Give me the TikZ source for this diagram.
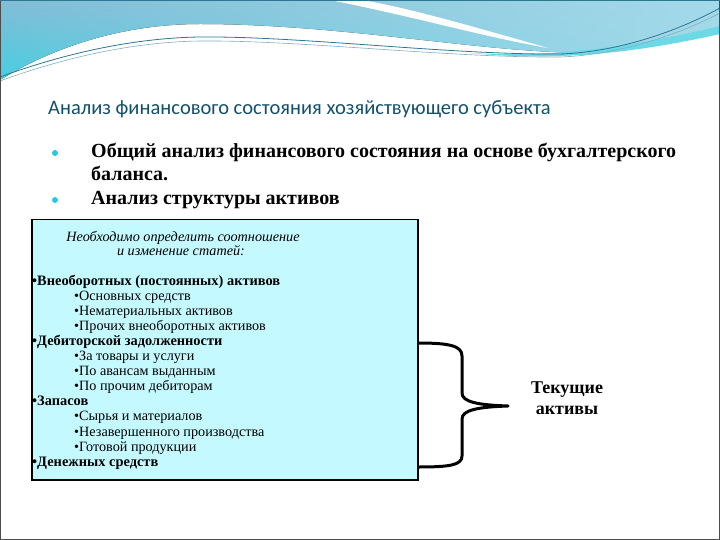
\documentclass[tikz,border=0pt]{standalone}
\usepackage{fontspec}
\usetikzlibrary{fadings}
\setmainfont{Liberation Serif}
\newfontfamily\titlefont{Carlito}
\definecolor{wavetop}{RGB}{132,188,214}
\definecolor{waveleft}{RGB}{72,206,224}
\definecolor{waveright}{RGB}{164,218,234}
\definecolor{waveline}{RGB}{44,120,146}
\definecolor{titleteal}{RGB}{18,80,106}
\definecolor{boxcyan}{RGB}{196,250,255}
\definecolor{dotcyan}{RGB}{40,200,222}
\tikzset{
  titletxt/.style={anchor=base west, inner sep=0, text=titleteal, font=\titlefont\fontsize{20.5}{24}\selectfont},
  maintxt/.style={anchor=base west, inner sep=0, align=left, font=\bfseries\fontsize{20}{23.5}\selectfont},
  dotmark/.style={circle, fill=dotcyan, inner sep=0, minimum size=6pt},
  infobox/.style={draw=black, line width=1.5pt, fill=boxcyan, anchor=north west, inner sep=0},
  notetxt/.style={anchor=base, inner sep=0, font=\itshape\fontsize{14.2}{15}\selectfont},
  headtxt/.style={anchor=base west, inner sep=0, font=\bfseries\fontsize{14.4}{15}\selectfont},
  subtxt/.style={anchor=base west, inner sep=0, font=\fontsize{14.2}{15}\selectfont},
  bracestyle/.style={line width=3pt, line join=round},
}
\begin{document}
\begin{tikzpicture}[x=1pt,y=-1pt]
\useasboundingbox (0,0) rectangle (720,540);
% header waves
\fill[top color=wavetop, bottom color=waveleft]
  (0,0) -- (720,0) -- (720,30) .. controls (660,44) and (610,54) .. (555,52)
  .. controls (460,48) and (330,24) .. (200,24) .. controls (110,24) and (40,55) .. (0,80) -- cycle;
\fill[waveright, path fading=west]
  (0,0) -- (720,0) -- (720,30) .. controls (660,44) and (610,54) .. (555,52)
  .. controls (460,48) and (330,24) .. (200,24) .. controls (110,24) and (40,55) .. (0,80) -- cycle;
\fill[white] (330,0) .. controls (420,18) and (480,36) .. (548,48)
  .. controls (485,30) and (410,8) .. (362,0) -- cycle;
\fill[waveleft!80] (470,53) .. controls (560,58) and (640,45) .. (720,26) -- (720,34)
  .. controls (640,52) and (560,62) .. (470,53) -- cycle;
\draw[waveline, line width=0.8pt] (0,77) .. controls (60,55) and (130,38) .. (200,37)
  .. controls (300,36) and (450,55) .. (560,54) .. controls (620,52) and (680,30) .. (720,8);
\draw[waveline!60, line width=0.6pt] (0,81) .. controls (60,59) and (130,42) .. (200,41)
  .. controls (300,40) and (450,58) .. (560,57) .. controls (620,55) and (680,34) .. (720,13);
% slide frame
\draw[black!70, line width=1.2pt] (0.6,0.6) rectangle (719.4,539.4);
\draw[waveline, line width=1.5pt] (0,0.75) -- (720,0.75);

\node[titletxt] (title) at (48,115) {Анализ финансового состояния хозяйствующего субъекта};

\node[dotmark] (d1) at (55,153) {};
\node[dotmark] (d2) at (55,200) {};
\node[maintxt] (general) at (91,181) {Общий анализ финансового состояния на основе бухгалтерского\\баланса.};
\node[maintxt] (structure) at (91,205) {Анализ структуры активов};

\node[infobox, minimum width=386pt, minimum height=260pt] (box) at (31,219) {};
\node[notetxt] (note1) at (183,241) {Необходимо определить соотношение};
\node[notetxt] (note2) at (181,255) {и изменение статей:};
\node[headtxt] (h1) at (32,285) {•Внеоборотных (постоянных) активов};
\node[subtxt] (s11) at (74,300) {•Основных средств};
\node[subtxt] (s12) at (74,315) {•Нематериальных активов};
\node[subtxt] (s13) at (74,330) {•Прочих внеоборотных активов};
\node[headtxt] (h2) at (32,345) {•Дебиторской задолженности};
\node[subtxt] (s21) at (74,360) {•За товары и услуги};
\node[subtxt] (s22) at (74,375) {•По авансам выданным};
\node[subtxt] (s23) at (74,390) {•По прочим дебиторам};
\node[headtxt] (h3) at (32,405) {•Запасов};
\node[subtxt] (s31) at (74,420) {•Сырья и материалов};
\node[subtxt] (s32) at (74,436) {•Незавершенного производства};
\node[subtxt] (s33) at (74,451) {•Готовой продукции};
\node[headtxt] (h4) at (32,466) {•Денежных средств};

\node[align=center, inner sep=0, font=\bfseries\fontsize{18}{21}\selectfont] (current) at (567,398) {Текущие\\активы};

% brace
\coordinate (btop) at (box.east |- 0,343);
\coordinate (bbot) at (box.east |- 0,467);
\coordinate (tip) at (508,406);
\draw[bracestyle] (btop) .. controls (450,343) and (462,346) .. (462,356) -- (462,393)
  .. controls (462,402) and (478,405) .. (tip)
  .. controls (478,407) and (462,410) .. (462,419) -- (462,456)
  .. controls (462,465) and (450,467) .. (bbot);
\end{tikzpicture}
\end{document}
